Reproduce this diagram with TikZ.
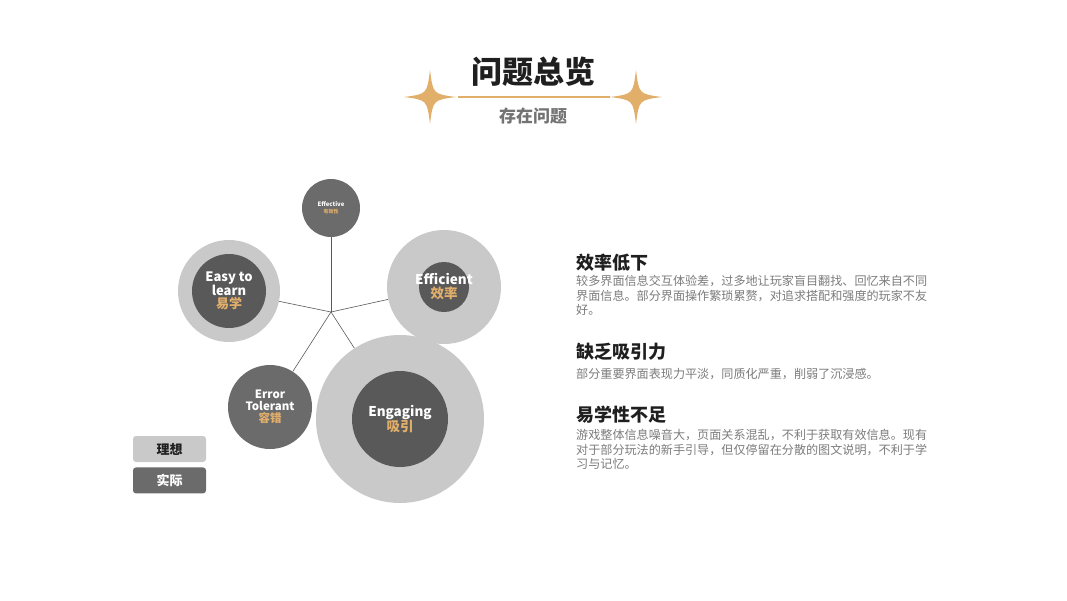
\documentclass[tikz,border=0pt]{standalone}
\usepackage{fontspec}
\setmainfont{Noto Sans CJK SC}
\usetikzlibrary{positioning}
\definecolor{gold}{HTML}{E2AF6B}
\definecolor{ideal}{HTML}{C9C9C9}
\definecolor{actual}{HTML}{595959}
\definecolor{actlite}{HTML}{6B6B6B}
\definecolor{bodygray}{HTML}{7C7C7C}
\definecolor{ink}{HTML}{1F1F1F}
\tikzset{
  ring/.style={circle,fill=ideal,inner sep=0pt,minimum size=#1},
  core/.style={circle,fill=actual,inner sep=0pt,minimum size=#1},
  spoke/.style={draw=black!65,line width=.6pt},
  lbl/.style 2 args={text=white,font=\bfseries\fontsize{#1}{#2}\selectfont,align=center,inner sep=0pt},
  head/.style={anchor=base west,text=ink,font=\bfseries\fontsize{18}{18}\selectfont,inner sep=0pt},
  body/.style={anchor=north west,text=bodygray,font=\fontsize{12.1}{14.5}\selectfont,align=left,inner sep=0pt},
  tag/.style={rounded corners=3pt,minimum width=73pt,minimum height=26pt,inner sep=0pt,font=\bfseries\fontsize{13}{13}\selectfont}
}
\newcommand{\sparkle}[2]{%
  \fill[gold,shift={(#1,#2)}] (0,-27) .. controls (3,-3) .. (26,0) .. controls (3,3) .. (0,27)
    .. controls (-3,3) .. (-26,0) .. controls (-3,-3) .. cycle;
}

\begin{document}
\begin{tikzpicture}[x=1pt,y=-1pt]
  \useasboundingbox[fill=white] (0,0) rectangle (1067,600);
  % title
  \node[font=\bfseries\fontsize{31}{31}\selectfont,text=ink] (title) at (533,72) {问题总览};
  \node[font=\bfseries\fontsize{17}{17}\selectfont,text=black!55] (subtitle) at (533,116) {存在问题};
  \draw[gold,line width=1.1pt] (458,97) -- (610,97);
  \sparkle{430}{97}
  \sparkle{636}{97}

  % five dimensions
  \coordinate (hub) at (331,312);
  \node[core=58pt,fill=actlite] (effect) at (331,208) {};
  \node[ring=102pt] (easy) at (229,291) {};
  \node[core=74pt] (easyR) at (easy) {};
  \node[ring=114pt] (effic) at (444,287) {};
  \node[core=50pt] (efficR) at (effic) {};
  \node[core=84pt,fill=actlite] (error) at (270,407) {};
  \node[ring=168pt] (engage) at (400,419) {};
  \node[core=96pt] (engageR) at (engage) {};
  \foreach \n in {effect,easy,effic,error,engage}
    \draw[spoke] (hub) -- (\n);

  \node[lbl={6}{6.5}] (effectT) at (effect) {Effective\\\textcolor{gold}{\fontsize{5}{5}\selectfont 有效性}};
  \node[lbl={13}{13.5}] (easyT) at (easy) {Easy to\\learn\\\textcolor{gold}{易学}};
  \node[lbl={13.5}{14}] (efficT) at (effic) {Efficient\\\textcolor{gold}{效率}};
  \node[lbl={11.5}{12}] (errorT) at (error) {Error\\Tolerant\\\textcolor{gold}{容错}};
  \node[lbl={13.5}{14}] (engageT) at (engage) {Engaging\\\textcolor{gold}{吸引}};

  % legend
  \node[tag,fill=ideal,text=ink] (ideal) at (169.5,449) {理想};
  \node[tag,fill=actlite,text=white,below=5pt of ideal] (actual) {实际};

  % problems
  \node[head] (h1) at (576,269) {效率低下};
  \node[body] (b1) at (576,275.5) {较多界面信息交互体验差，过多地让玩家盲目翻找、回忆来自不同\\界面信息。部分界面操作繁琐累赘，对追求搭配和强度的玩家不友\\好。};
  \node[head] (h2) at (576,358) {缺乏吸引力};
  \node[body] (b2) at (576,368.5) {部分重要界面表现力平淡，同质化严重，削弱了沉浸感。};
  \node[head] (h3) at (576,421) {易学性不足};
  \node[body] (b3) at (576,429.5) {游戏整体信息噪音大，页面关系混乱，不利于获取有效信息。现有\\对于部分玩法的新手引导，但仅停留在分散的图文说明，不利于学\\习与记忆。};
\end{tikzpicture}
\end{document}
